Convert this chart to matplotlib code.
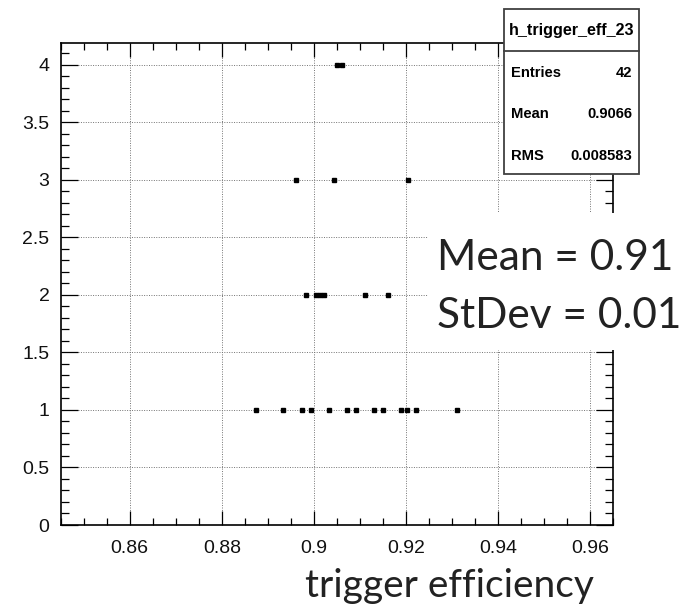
import matplotlib
matplotlib.use("Agg")
import matplotlib.pyplot as plt
from matplotlib.patches import Rectangle
from matplotlib.lines import Line2D
from matplotlib.ticker import MultipleLocator

# bin centres of the filled bins and their contents
eff_count1 = [0.8875, 0.8934, 0.8974, 0.8994, 0.9032, 0.9071, 0.9091,
              0.9131, 0.9151, 0.9190, 0.9202, 0.9223, 0.9311]
eff_count2 = [0.8983, 0.9004, 0.9013, 0.9023, 0.9112, 0.9162]
eff_count3 = [0.8961, 0.9043, 0.9205]
eff_count4 = [0.9051, 0.9062]

hist_name = "h_trigger_eff_23"
stats_labels = ["Entries", "Mean", "RMS"]
stats_values = ["42", "0.9066", "0.008583"]
summary_lines = ["Mean = 0.91", "StDev = 0.01"]
x_title = "trigger efficiency"

W, H = 680, 608
fig = plt.figure(figsize=(W / 100, H / 100), dpi=100)
ax = fig.add_axes([60.7 / W, 1 - 525 / H, (613 - 60.7) / W, (525 - 42.7) / H])

for y, xs in [(1, eff_count1), (2, eff_count2), (3, eff_count3), (4, eff_count4)]:
    ax.plot(xs, [y] * len(xs), ls="none", marker="s", ms=3.3,
            color="black", mec="black", zorder=3)

ax.set_xlim(0.845, 0.965)
ax.set_ylim(0, 4.19)
ax.xaxis.set_major_locator(MultipleLocator(0.02))
ax.xaxis.set_minor_locator(MultipleLocator(0.005))
ax.yaxis.set_major_locator(MultipleLocator(0.5))
ax.yaxis.set_minor_locator(MultipleLocator(0.1))
ax.set_xticks([0.86, 0.88, 0.9, 0.92, 0.94, 0.96])
ax.set_xticklabels(["0.86", "0.88", "0.9", "0.92", "0.94", "0.96"])
ax.set_yticks([0, 0.5, 1, 1.5, 2, 2.5, 3, 3.5, 4])
ax.set_yticklabels(["0", "0.5", "1", "1.5", "2", "2.5", "3", "3.5", "4"])

ax.grid(True, which="major", color="0.45", ls=(0, (1, 1.5)), lw=0.7)
ax.tick_params(which="both", direction="in", top=True, right=True, width=0.9,
               labelsize=14, labelfontfamily="Liberation Sans", color="black",
               labelcolor="#111111")
ax.tick_params(axis="x", which="major", length=10, pad=11)
ax.tick_params(axis="x", which="minor", length=5)
ax.tick_params(axis="y", which="major", length=12, pad=8)
ax.tick_params(axis="y", which="minor", length=6)
for s in ax.spines.values():
    s.set_linewidth(1.2)

# ROOT stats box
fx = lambda px: px / W
fy = lambda py: 1 - py / H
fig.add_artist(Rectangle((fx(504), fy(174.3)), fx(638.7) - fx(504), fy(9.3) - fy(174.3),
                         transform=fig.transFigure, fc="white", ec="0.25", lw=1.3, zorder=5))
fig.add_artist(Line2D([fx(504), fx(638.7)], [fy(50.7), fy(50.7)],
                      transform=fig.transFigure, color="0.25", lw=1.3, zorder=6))
fig.text(fx(571.3), fy(30), hist_name, ha="center", va="center", fontsize=11.6,
         fontweight="bold", family="Liberation Sans", zorder=7)
for i, (lab, val) in enumerate(zip(stats_labels, stats_values)):
    yy = fy(73 + i * 41.5)
    fig.text(fx(511.5), yy, lab, ha="left", va="center", fontsize=10.6,
             fontweight="bold", family="Liberation Sans", zorder=7)
    fig.text(fx(632.5), yy, val, ha="right", va="center", fontsize=10.6,
             fontweight="bold", family="Liberation Sans", zorder=7)

# slide overlay with summary numbers
fig.add_artist(Rectangle((fx(428), fy(350)), fx(680) - fx(428), fy(213) - fy(350),
                         transform=fig.transFigure, fc="white", ec="none", zorder=5))
for i, line in enumerate(summary_lines):
    fig.text(fx(437), fy(270 + i * 58), line, ha="left", va="baseline",
             fontsize=30.5, family="Lato", color="#222222", zorder=7)

fig.text(fx(305), fy(597), x_title, ha="left", va="baseline",
         fontsize=28, family="Lato", color="#222222", zorder=7)

fig.savefig("out.png", dpi=100)
